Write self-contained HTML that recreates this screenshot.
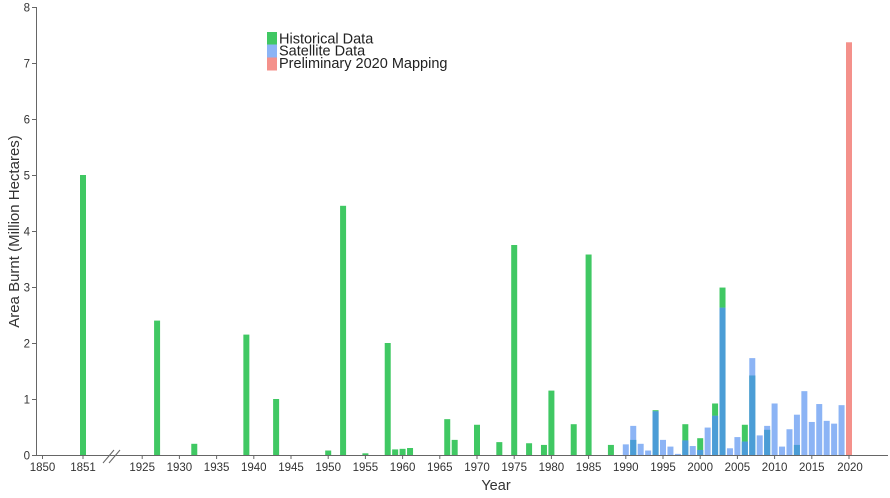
<!DOCTYPE html>
<html>
<head>
<meta charset="utf-8">
<style>
  html, body { margin:0; padding:0; background:#fff; }
  svg { display:block; }
  text { font-family: "Liberation Sans", Arial, sans-serif; }
</style>
</head>
<body>
<svg width="890" height="498" viewBox="0 0 890 498" xmlns="http://www.w3.org/2000/svg">
  <rect x="0" y="0" width="890" height="498" fill="#fff"/>

  <!-- Historical (green) bars -->
  <g fill="#40c863">
    <rect x="80" y="175" width="6" height="280"/>
    <rect x="154.08" y="320.6" width="6" height="134.4"/>
    <rect x="191.28" y="443.8" width="6" height="11.2"/>
    <rect x="243.36" y="334.6" width="6" height="120.4"/>
    <rect x="273.12" y="399" width="6" height="56"/>
    <rect x="325.2" y="450.52" width="6" height="4.48"/>
    <rect x="340.08" y="205.8" width="6" height="249.2"/>
    <rect x="362.4" y="453.32" width="6" height="1.68"/>
    <rect x="384.72" y="343" width="6" height="112"/>
    <rect x="392.16" y="449.4" width="6" height="5.6"/>
    <rect x="399.6" y="448.84" width="6" height="6.16"/>
    <rect x="407.04" y="448" width="6" height="7"/>
    <rect x="444.24" y="419.16" width="6" height="35.84"/>
    <rect x="451.68" y="439.88" width="6" height="15.12"/>
    <rect x="474" y="424.76" width="6" height="30.24"/>
    <rect x="496.32" y="442.12" width="6" height="12.88"/>
    <rect x="511.2" y="245" width="6" height="210"/>
    <rect x="526.08" y="443.24" width="6" height="11.76"/>
    <rect x="540.96" y="444.92" width="6" height="10.08"/>
    <rect x="548.4" y="390.6" width="6" height="64.4"/>
    <rect x="570.72" y="424.2" width="6" height="30.8"/>
    <rect x="585.6" y="254.52" width="6" height="200.48"/>
    <rect x="607.92" y="444.92" width="6" height="10.08"/>
    <!-- satellite-era green -->
    <rect x="630.24" y="439.88" width="6" height="15.12"/>
    <rect x="652.56" y="410.2" width="6" height="44.8"/>
    <rect x="682.32" y="424.2" width="6" height="30.8"/>
    <rect x="697.2" y="438.2" width="6" height="16.8"/>
    <rect x="712.08" y="403.48" width="6" height="51.52"/>
    <rect x="719.52" y="287.56" width="6" height="167.44"/>
    <rect x="741.84" y="424.76" width="6" height="30.24"/>
    <rect x="749.28" y="375.48" width="6" height="79.52"/>
    <rect x="764.16" y="429.8" width="6" height="25.2"/>
    <rect x="793.92" y="444.92" width="6" height="10.08"/>
  </g>

  <!-- Satellite (light blue) bars -->
  <g fill="#8cb4f5">
    <rect x="622.8" y="444.36" width="6" height="10.64"/>
    <rect x="630.24" y="425.88" width="6" height="29.12"/>
    <rect x="637.68" y="443.8" width="6" height="11.2"/>
    <rect x="645.12" y="450.52" width="6" height="4.48"/>
    <rect x="652.56" y="411.32" width="6" height="43.68"/>
    <rect x="660" y="439.88" width="6" height="15.12"/>
    <rect x="667.44" y="446.6" width="6" height="8.4"/>
    <rect x="674.88" y="453.88" width="6" height="1.12"/>
    <rect x="682.32" y="440.44" width="6" height="14.56"/>
    <rect x="689.76" y="446.04" width="6" height="8.96"/>
    <rect x="697.2" y="449.96" width="6" height="5.04"/>
    <rect x="704.64" y="427.56" width="6" height="27.44"/>
    <rect x="712.08" y="415.8" width="6" height="39.2"/>
    <rect x="719.52" y="307.72" width="6" height="147.28"/>
    <rect x="726.96" y="448.28" width="6" height="6.72"/>
    <rect x="734.4" y="437.08" width="6" height="17.92"/>
    <rect x="741.84" y="441.56" width="6" height="13.44"/>
    <rect x="749.28" y="358.12" width="6" height="96.88"/>
    <rect x="756.72" y="435.4" width="6" height="19.6"/>
    <rect x="764.16" y="425.88" width="6" height="29.12"/>
    <rect x="771.6" y="403.48" width="6" height="51.52"/>
    <rect x="779.04" y="446.6" width="6" height="8.4"/>
    <rect x="786.48" y="429.24" width="6" height="25.76"/>
    <rect x="793.92" y="414.68" width="6" height="40.32"/>
    <rect x="801.36" y="391.16" width="6" height="63.84"/>
    <rect x="808.8" y="421.96" width="6" height="33.04"/>
    <rect x="816.24" y="404.04" width="6" height="50.96"/>
    <rect x="823.68" y="420.84" width="6" height="34.16"/>
    <rect x="831.12" y="423.64" width="6" height="31.36"/>
    <rect x="838.56" y="405.16" width="6" height="49.84"/>
  </g>

  <!-- Overlap (dark blue) -->
  <g fill="#4b9dd6">
    <rect x="630.24" y="439.88" width="6" height="15.12"/>
    <rect x="652.56" y="411.32" width="6" height="43.68"/>
    <rect x="682.32" y="440.44" width="6" height="14.56"/>
    <rect x="697.2" y="449.96" width="6" height="5.04"/>
    <rect x="712.08" y="415.8" width="6" height="39.2"/>
    <rect x="719.52" y="307.72" width="6" height="147.28"/>
    <rect x="741.84" y="441.56" width="6" height="13.44"/>
    <rect x="749.28" y="375.48" width="6" height="79.52"/>
    <rect x="764.16" y="429.8" width="6" height="25.2"/>
    <rect x="793.92" y="444.92" width="6" height="10.08"/>
  </g>

  <!-- 2020 preliminary -->
  <rect x="846" y="42.28" width="6" height="412.72" fill="#f4918b"/>

  <!-- Axes -->
  <g stroke="#666" stroke-width="1" fill="none">
    <line x1="36.5" y1="7" x2="36.5" y2="455.5"/>
    <line x1="36" y1="455.5" x2="888" y2="455.5"/>
    <!-- y ticks -->
    <line x1="32" y1="455.5" x2="36" y2="455.5"/>
    <line x1="32" y1="399.5" x2="36" y2="399.5"/>
    <line x1="32" y1="343.5" x2="36" y2="343.5"/>
    <line x1="32" y1="287.5" x2="36" y2="287.5"/>
    <line x1="32" y1="231.5" x2="36" y2="231.5"/>
    <line x1="32" y1="175.5" x2="36" y2="175.5"/>
    <line x1="32" y1="119.5" x2="36" y2="119.5"/>
    <line x1="32" y1="63.5" x2="36" y2="63.5"/>
    <line x1="32" y1="7.5" x2="36" y2="7.5"/>
    <!-- x ticks -->
    <line x1="42.5" y1="455" x2="42.5" y2="459"/>
    <line x1="83" y1="455" x2="83" y2="459"/>
    <line x1="142.2" y1="455" x2="142.2" y2="459"/>
    <line x1="179.4" y1="455" x2="179.4" y2="459"/>
    <line x1="216.6" y1="455" x2="216.6" y2="459"/>
    <line x1="253.8" y1="455" x2="253.8" y2="459"/>
    <line x1="291" y1="455" x2="291" y2="459"/>
    <line x1="328.2" y1="455" x2="328.2" y2="459"/>
    <line x1="365.4" y1="455" x2="365.4" y2="459"/>
    <line x1="402.6" y1="455" x2="402.6" y2="459"/>
    <line x1="439.8" y1="455" x2="439.8" y2="459"/>
    <line x1="477" y1="455" x2="477" y2="459"/>
    <line x1="514.2" y1="455" x2="514.2" y2="459"/>
    <line x1="551.4" y1="455" x2="551.4" y2="459"/>
    <line x1="588.6" y1="455" x2="588.6" y2="459"/>
    <line x1="625.8" y1="455" x2="625.8" y2="459"/>
    <line x1="663" y1="455" x2="663" y2="459"/>
    <line x1="700.2" y1="455" x2="700.2" y2="459"/>
    <line x1="737.4" y1="455" x2="737.4" y2="459"/>
    <line x1="774.6" y1="455" x2="774.6" y2="459"/>
    <line x1="811.8" y1="455" x2="811.8" y2="459"/>
    <line x1="849" y1="455" x2="849" y2="459"/>
    <!-- axis break -->
    <line x1="103" y1="463" x2="114" y2="450"/>
    <line x1="109" y1="463" x2="120" y2="450"/>
  </g>

  <!-- Y tick labels -->
  <g font-size="11.5" fill="#333" text-anchor="end">
    <text x="30" y="459.5">0</text>
    <text x="30" y="403.5">1</text>
    <text x="30" y="347.5">2</text>
    <text x="30" y="291.5">3</text>
    <text x="30" y="235.5">4</text>
    <text x="30" y="179.5">5</text>
    <text x="30" y="123.5">6</text>
    <text x="30" y="67.5">7</text>
    <text x="30" y="11.5">8</text>
  </g>

  <!-- X tick labels -->
  <g font-size="11.5" fill="#333" text-anchor="middle">
    <text x="42.5" y="471">1850</text>
    <text x="83" y="471">1851</text>
    <text x="142.2" y="471">1925</text>
    <text x="179.4" y="471">1930</text>
    <text x="216.6" y="471">1935</text>
    <text x="253.8" y="471">1940</text>
    <text x="291" y="471">1945</text>
    <text x="328.2" y="471">1950</text>
    <text x="365.4" y="471">1955</text>
    <text x="402.6" y="471">1960</text>
    <text x="439.8" y="471">1965</text>
    <text x="477" y="471">1970</text>
    <text x="514.2" y="471">1975</text>
    <text x="551.4" y="471">1980</text>
    <text x="588.6" y="471">1985</text>
    <text x="625.8" y="471">1990</text>
    <text x="663" y="471">1995</text>
    <text x="700.2" y="471">2000</text>
    <text x="737.4" y="471">2005</text>
    <text x="774.6" y="471">2010</text>
    <text x="811.8" y="471">2015</text>
    <text x="850" y="471">2020</text>
  </g>

  <!-- Axis titles -->
  <text x="496" y="490" font-size="14.5" fill="#333" text-anchor="middle">Year</text>
  <text transform="translate(19,231.5) rotate(-90)" font-size="15" fill="#333" text-anchor="middle">Area Burnt (Million Hectares)</text>

  <!-- Legend -->
  <rect x="267" y="32" width="10" height="12.5" fill="#40c863"/>
  <rect x="267" y="44.5" width="10" height="13" fill="#8cb4f5"/>
  <rect x="267" y="57.5" width="10" height="13" fill="#f4918b"/>
  <g font-size="14.5" fill="#222">
    <text x="279" y="43.5">Historical Data</text>
    <text x="279" y="55.5">Satellite Data</text>
    <text x="279" y="68">Preliminary 2020 Mapping</text>
  </g>
</svg>
</body>
</html>
